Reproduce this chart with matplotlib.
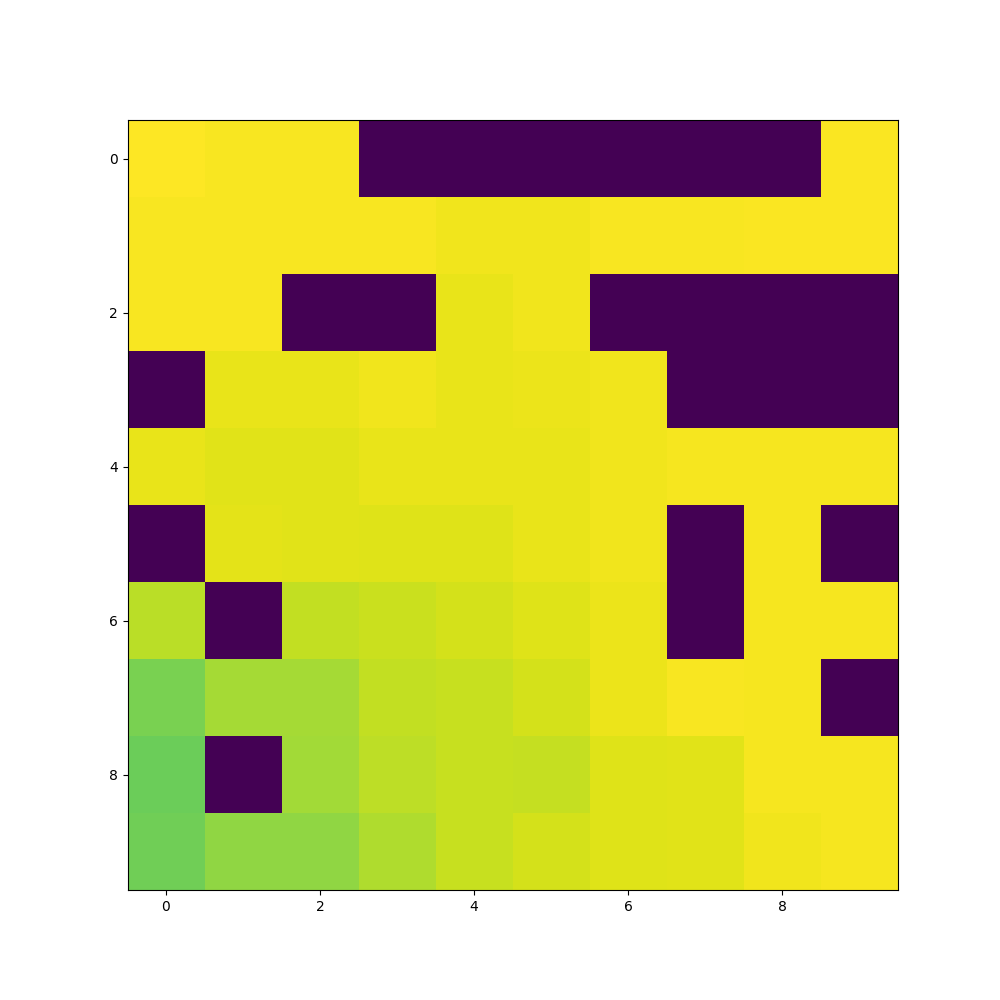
import numpy as np
import matplotlib
matplotlib.use("Agg")
import matplotlib.pyplot as plt

# grid values, 0 = the dark cells
row0 = [1.00, 0.99, 0.99, 0.00, 0.00, 0.00, 0.00, 0.00, 0.00, 0.995]
row1 = [0.99, 0.99, 0.99, 0.99, 0.977, 0.977, 0.99, 0.99, 0.995, 0.995]
row2 = [0.99, 0.99, 0.00, 0.00, 0.967, 0.977, 0.00, 0.00, 0.00, 0.00]
row3 = [0.00, 0.967, 0.967, 0.977, 0.967, 0.972, 0.977, 0.00, 0.00, 0.00]
row4 = [0.967, 0.957, 0.955, 0.967, 0.967, 0.965, 0.977, 0.987, 0.987, 0.987]
row5 = [0.00, 0.96, 0.954, 0.95, 0.95, 0.967, 0.977, 0.00, 0.987, 0.00]
row6 = [0.895, 0.00, 0.907, 0.918, 0.937, 0.952, 0.97, 0.00, 0.987, 0.987]
row7 = [0.80, 0.865, 0.867, 0.91, 0.917, 0.935, 0.97, 0.992, 0.987, 0.00]
row8 = [0.775, 0.00, 0.862, 0.9, 0.917, 0.912, 0.952, 0.957, 0.987, 0.987]
row9 = [0.785, 0.835, 0.835, 0.88, 0.917, 0.935, 0.952, 0.957, 0.977, 0.987]

grid = np.array([row0, row1, row2, row3, row4, row5, row6, row7, row8, row9])

fig, ax = plt.subplots(figsize=(10, 10), dpi=100)
ax.imshow(grid, cmap="viridis", vmin=0, vmax=1)
fig.savefig("out.png")
